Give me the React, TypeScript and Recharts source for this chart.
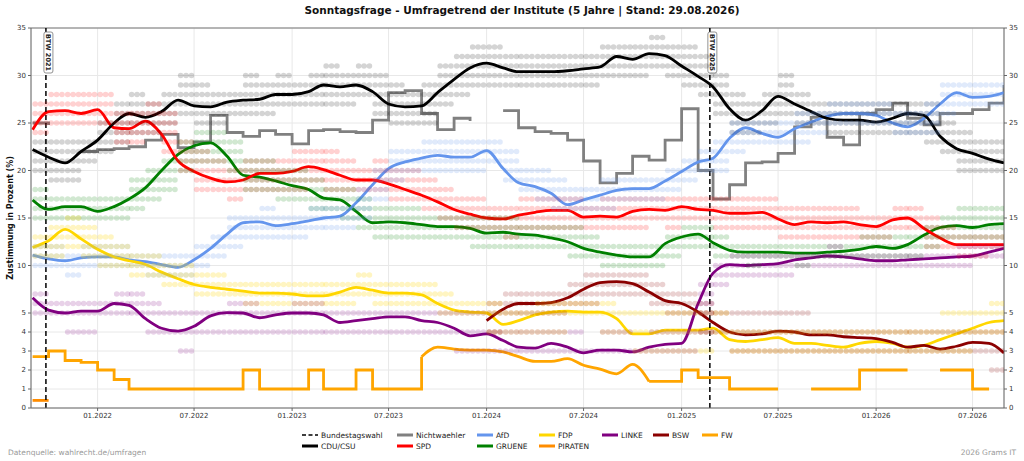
import React from 'react';
import { ComposedChart, Line, Scatter, XAxis, YAxis, CartesianGrid, ReferenceLine } from 'recharts';

// ---------- data ----------
const dates = [
  '2021-09-01', '2021-10-01', '2021-11-01', '2021-12-01',
  '2022-01-01', '2022-02-01', '2022-03-01', '2022-04-01', '2022-05-01', '2022-06-01', '2022-07-01', '2022-08-01', '2022-09-01', '2022-10-01', '2022-11-01', '2022-12-01',
  '2023-01-01', '2023-02-01', '2023-03-01', '2023-04-01', '2023-05-01', '2023-06-01', '2023-07-01', '2023-08-01', '2023-09-01', '2023-10-01', '2023-11-01', '2023-12-01',
  '2024-01-01', '2024-02-01', '2024-03-01', '2024-04-01', '2024-05-01', '2024-06-01', '2024-07-01', '2024-08-01', '2024-09-01', '2024-10-01', '2024-11-01', '2024-12-01',
  '2025-01-01', '2025-02-01', '2025-03-01', '2025-04-01', '2025-05-01', '2025-06-01', '2025-07-01', '2025-08-01', '2025-09-01', '2025-10-01', '2025-11-01', '2025-12-01',
  '2026-01-01', '2026-02-01', '2026-03-01', '2026-04-01', '2026-05-01', '2026-06-01', '2026-07-01', '2026-08-01',
  '2026-08-29',
];

const cdu = [22.2, 21.4, 20.8, 22.0,
  23.2, 25.0, 26.0, 25.6, 26.2, 27.4, 26.8, 26.7, 27.2, 27.4, 27.5, 28.0,
  28.0, 28.3, 29.0, 28.8, 29.0, 28.3, 27.0, 26.7, 26.8, 28.2, 29.6, 30.8,
  31.3, 30.8, 30.4, 30.4, 30.4, 30.5, 30.7, 30.9, 32.0, 31.7, 32.3, 32.1,
  31.0, 29.9, 28.8, 26.5, 25.3, 26.3, 27.8, 27.0, 26.2, 25.5, 25.3, 25.3,
  25.1, 25.5, 26.0, 25.8, 23.6, 22.3, 21.8, 21.2,
  20.8];
const spd = [24.3, 26.2, 26.3, 26.0,
  26.4, 24.5, 24.4, 25.2, 23.8, 21.0, 19.9, 19.2, 18.8, 19.0, 19.7, 19.7,
  19.9, 20.4, 20.1, 19.5, 19.0, 19.0, 18.6, 18.0, 17.4, 16.7, 15.9, 15.4,
  15.0, 14.9, 15.3, 15.6, 15.8, 15.8, 15.1, 15.2, 15.1, 15.7, 15.9, 15.8,
  16.2, 15.9, 15.8, 15.5, 15.5, 15.6, 14.9, 14.3, 14.6, 14.5, 14.6, 14.3,
  14.1, 14.8, 15.0, 13.9, 12.9, 12.2, 12.2, 12.2,
  12.2];
const gruene = [16.9, 15.9, 16.2, 16.2,
  15.7, 16.2, 17.0, 18.2, 20.0, 21.7, 22.6, 22.9, 21.5, 19.5, 19.3, 18.9,
  18.4, 18.0, 17.1, 16.9, 15.7, 14.5, 14.6, 14.5, 14.3, 14.1, 14.1, 13.9,
  13.4, 13.5, 13.3, 13.2, 12.9, 12.5, 11.8, 11.4, 11.1, 10.9, 10.9, 12.3,
  13.0, 13.3, 12.4, 11.6, 11.4, 11.4, 11.4, 11.3, 11.3, 11.4, 11.5, 11.7,
  12.0, 11.8, 12.2, 13.2, 14.0, 14.2, 14.0, 14.3,
  14.4];
const afd = [11.1, 10.7, 10.5, 10.8,
  10.9, 10.9, 10.6, 10.4, 10.1, 9.8, 10.6, 11.8, 13.3, 14.5, 14.6, 14.2,
  14.4, 14.7, 15.0, 15.2, 16.6, 18.5, 20.2, 20.9, 21.3, 21.6, 21.4, 21.4,
  22.1, 20.2, 18.7, 18.3, 17.6, 16.4, 16.9, 17.4, 17.9, 18.1, 18.1, 18.9,
  19.9, 20.9, 21.3, 23.4, 24.5, 23.9, 23.5, 24.4, 25.1, 25.7, 26.0, 26.0,
  25.8, 25.0, 24.6, 25.5, 27.0, 28.2, 27.7, 27.8,
  28.2];
const fdp = [11.9, 12.6, 13.8, 12.8,
  11.7, 10.9, 10.5, 10.1, 9.3, 8.6, 8.0, 7.7, 7.5, 7.3, 7.1, 7.1,
  7.0, 6.8, 6.8, 7.2, 7.7, 7.4, 7.1, 7.1, 6.9, 6.0, 5.3, 5.1,
  5.0, 4.4, 4.6, 4.9, 5.1, 5.2, 5.1, 5.1, 4.7, 3.9, 3.9, 4.1,
  4.1, 4.1, 4.2, 3.6, 3.5, 3.6, 3.7, 3.4, 3.4, 3.3, 3.2, 3.4,
  3.5, 3.4, 3.2, 3.3, 3.6, 3.9, 4.2, 4.5,
  4.6];
const linke = [6.6, 5.3, 5.0, 5.2,
  5.2, 6.0, 5.8, 4.7, 4.2, 4.05, 4.3, 4.85, 5.05, 5.0, 4.75, 4.9,
  5.0, 5.0, 4.9, 4.5, 4.6, 4.7, 4.8, 4.8, 4.6, 4.5, 4.2, 3.8,
  3.9, 3.55, 3.2, 3.15, 3.4, 3.2, 2.9, 3.05, 3.05, 2.95, 3.2, 3.35,
  3.4, 6.0, 9.2, 10.1, 10.0, 10.1, 10.2, 10.6, 10.8, 11.0, 10.9, 10.7,
  10.5, 10.5, 10.6, 10.7, 10.8, 10.9, 11.0, 11.4,
  11.8];
const bsw = [null, null, null, null,
  null, null, null, null, null, null, null, null, null, null, null, null,
  null, null, null, null, null, null, null, null, null, null, null, null,
  4.6, 5.4, 6.0, 6.0, 6.1, 6.6, 7.5, 8.2, 8.3, 8.1, 7.2, 6.3,
  6.0, 5.1, 4.5, 4.0, 3.85, 3.9, 4.05, 4.0, 3.85, 3.85, 3.75, 3.7,
  3.65, 3.45, 3.2, 3.3, 3.1, 3.25, 3.45, 3.4,
  2.9];
const nichtwaehler = [25.0, 24.8, null, 22.0,
  22.2, 22.3, 22.5, 23.2, 23.8, 22.4, 23.0, 25.8, 24.0, 23.6, 24.2, 23.8,
  22.8, 24.2, 24.3, 24.1, 24.0, 25.3, 28.2, 28.4, 26.0, 24.3, 25.5, 25.2,
  null, 26.3, 24.5, 24.1, 23.9, 23.2, 21.0, 18.7, 19.7, 21.5, 21.1, 23.2,
  26.5, 20.0, 17.0, 18.5, 20.8, 20.9, 21.8, 24.6, 25.6, 23.5, 22.7, 26.0,
  26.4, 27.1, 25.5, 24.8, 26.0, 26.0, 26.4, 27.1,
  29.0];
const fwStep = [2.7, 3.0, 2.5, 2.4,
  2.0, 1.5, 1.0, 1.0, 1.0, 1.0, 1.0, 1.0, 1.0, 2.0, 1.0, 1.0,
  1.0, 2.0, 1.0, 1.0, 2.0, 1.0, 1.0, 1.0, 2.7, null, null, null,
  null, null, null, null, null, null, null, null, null, null, 1.4, 1.4,
  2.0, 1.6, 1.6, 1.0, 1.0, 1.0, 1.0, null, 1.0, 1.0, 1.0, 2.0,
  2.0, 2.0, 2.0, null, 2.0, 2.0, 1.0, 1.0,
  null];
const fwSmooth = [null, null, null, null,
  null, null, null, null, null, null, null, null, null, null, null, null,
  null, null, null, null, null, null, null, null, 2.7, 3.2, 3.1, 3.05,
  3.05, 2.95, 2.7, 2.45, 2.45, 2.6, 2.25, 2.05, 1.8, 2.3, 1.4, null,
  null, null, null, null, null, null, null, null, null, null, null, null,
  null, null, null, null, null, null, null, null,
  null];
const piraten = [0.4, 0.4, null, null,
  null, null, null, null, null, null, null, null, null, null, null, null,
  null, null, null, null, null, null, null, null, null, null, null, null,
  null, null, null, null, null, null, null, null, null, null, null, null,
  null, null, null, null, null, null, null, null, null, null, null, null,
  null, null, null, null, null, null, null, null,
  null];

// poll dots: lowest / highest poll value per month
const cduLo = [20, 19, 19, 21, 22, 23, 24, 24, 25, 26, 25, 25, 26, 26, 26, 27, 27, 27, 27, 27, 28, 26, 25, 25, 25, 27, 28, 29, 29, 29, 29, 29, 29, 29, 29, 30, 30, 30, 31, 30, 29, 28, 26, 24, 24, 25, 26, 25, 25, 24, 24, 24, 24, 24, 24, 23, 22, 20, 20, 20];
const cduHi = [23, 23, 23, 23, 25, 27, 28, 27, 28, 30, 29, 28, 28, 30, 29, 30, 29, 30, 31, 30, 31, 30, 29, 28, 29, 31, 32, 33, 33, 32, 32, 32, 32, 32, 32, 33, 33, 33, 34, 33, 33, 32, 30, 28, 27, 28, 30, 28, 27, 27, 27, 27, 27, 27, 27, 27, 25, 24, 23, 23];
const spdLo = [24, 25, 25, 25, 25, 23, 23, 24, 22, 20, 18, 18, 17, 18, 18, 18, 18, 19, 18, 18, 18, 18, 17, 17, 16, 15, 14, 14, 14, 13, 14, 14, 14, 14, 14, 14, 14, 14, 15, 14, 15, 15, 14, 14, 14, 14, 13, 13, 13, 13, 13, 13, 13, 14, 14, 12, 12, 11, 11, 12];
const spdHi = [27, 28, 28, 28, 28, 26, 26, 27, 26, 23, 22, 21, 20, 21, 21, 21, 22, 22, 22, 21, 20, 21, 20, 20, 19, 18, 17, 17, 16, 16, 17, 17, 17, 17, 16, 17, 17, 17, 17, 17, 17, 17, 17, 17, 17, 17, 16, 16, 16, 16, 16, 15, 15, 16, 16, 15, 14, 13, 13, 13];
const grueneLo = [15, 15, 15, 15, 15, 15, 16, 17, 18, 20, 21, 21, 20, 18, 18, 17, 17, 16, 16, 15, 14, 13, 13, 13, 13, 13, 13, 12, 12, 12, 12, 12, 12, 11, 11, 10, 10, 10, 10, 11, 12, 12, 11, 11, 10, 11, 11, 10, 11, 11, 11, 11, 11, 11, 11, 12, 13, 13, 13, 13];
const grueneHi = [18, 17, 17, 17, 17, 17, 19, 20, 21, 23, 24, 24, 23, 21, 21, 20, 20, 19, 18, 18, 17, 16, 16, 16, 15, 15, 15, 15, 15, 15, 14, 14, 14, 14, 13, 12, 12, 12, 12, 13, 14, 14, 13, 12, 12, 12, 12, 12, 12, 12, 12, 13, 13, 13, 13, 14, 15, 16, 16, 16];
const afdLo = [10, 10, 9, 10, 10, 10, 10, 9, 9, 9, 10, 11, 12, 13, 13, 13, 13, 14, 14, 14, 15, 17, 19, 20, 20, 20, 20, 20, 21, 19, 18, 17, 16, 16, 16, 16, 17, 17, 17, 18, 19, 20, 20, 22, 23, 23, 23, 23, 24, 25, 25, 25, 25, 24, 24, 24, 26, 27, 27, 27];
const afdHi = [12, 12, 11, 12, 12, 12, 11, 11, 11, 11, 12, 13, 15, 15, 16, 15, 15, 16, 16, 16, 18, 20, 22, 22, 23, 23, 23, 23, 23, 22, 20, 20, 19, 18, 18, 19, 19, 19, 19, 20, 21, 22, 23, 25, 25, 25, 25, 26, 26, 27, 27, 27, 27, 26, 26, 27, 29, 29, 29, 29];
const fdpLo = [11, 11, 12, 11, 10, 10, 9, 9, 8, 8, 7, 7, 7, 6, 6, 6, 6, 6, 6, 6, 7, 6, 6, 6, 6, 5, 5, 5, 4, 4, 4, 4, 4, 5, 5, 4, 4, 3, 3, 3, 3, 3, 4, 3, 3, 3, 3, 3, 3, 3, 3, 3, 3, 3, 3, 3, 3, 3, 4, 4];
const fdpHi = [13, 14, 15, 14, 13, 12, 11, 11, 10, 10, 9, 9, 8, 8, 8, 8, 8, 8, 8, 8, 9, 8, 8, 8, 8, 7, 6, 6, 6, 5, 5, 6, 6, 6, 6, 6, 5, 5, 5, 5, 5, 5, 5, 4, 4, 4, 4, 4, 4, 4, 4, 4, 4, 4, 4, 4, 5, 5, 5, 6];
const linkeLo = [5, 5, 4, 4, 5, 5, 5, 4, 4, 3, 4, 4, 4, 4, 4, 4, 4, 4, 4, 4, 4, 4, 4, 4, 4, 4, 3, 3, 3, 3, 3, 3, 3, 3, 3, 3, 3, 3, 3, 3, 3, 4, 8, 9, 9, 9, 9, 10, 10, 10, 10, 10, 10, 10, 10, 10, 10, 10, 11, 11];
const linkeHi = [7, 6, 6, 6, 6, 7, 7, 6, 5, 5, 5, 5, 6, 6, 5, 5, 6, 6, 5, 5, 5, 5, 5, 5, 5, 5, 5, 5, 4, 4, 4, 4, 4, 4, 3, 4, 4, 3, 4, 4, 4, 8, 10, 11, 11, 11, 11, 11, 11, 12, 11, 11, 11, 11, 11, 11, 11, 12, 12, 12];
const bswLo = [null, null, null, null, null, null, null, null, null, null, null, null, null, null, null, null, null, null, null, null, null, null, null, null, null, null, null, null, 4, 5, 5, 5, 5, 6, 6, 7, 7, 7, 6, 5, 5, 4, 4, 3, 3, 3, 3, 3, 3, 3, 3, 3, 3, 3, 3, 3, 3, 3, 3, 2];
const bswHi = [null, null, null, null, null, null, null, null, null, null, null, null, null, null, null, null, null, null, null, null, null, null, null, null, null, null, null, null, 6, 7, 7, 7, 7, 8, 9, 9, 9, 9, 8, 7, 7, 6, 5, 5, 5, 5, 5, 5, 4, 4, 4, 4, 4, 4, 4, 4, 4, 4, 4, 4];

const xTickDates = ['2022-01-01', '2022-07-01', '2023-01-01', '2023-07-01', '2024-01-01', '2024-07-01', '2025-01-01', '2025-07-01', '2026-01-01', '2026-07-01'];
const yTickValues = [0, 1, 2, 3, 4, 5, 10, 15, 20, 25, 30, 35];
const elections = [
  { date: '2021-09-26', label: 'BTW 2021' },
  { date: '2025-02-23', label: 'BTW 2025' },
];
const domainDates = ['2021-08-29', '2026-08-29'];

// ---------- helpers ----------
const DAY = 864e5;
const toDay = (s: string) => Date.UTC(+s.slice(0, 4), +s.slice(5, 7) - 1, +s.slice(8, 10)) / DAY;
// piecewise y-scale: 0..5 is drawn at double scale
const tf = (v: number | null) => (v == null ? null : v < 5 ? v * 2 : v + 5);
const untf = (t: number) => (t <= 10 ? t / 2 : t - 5);

const table = dates.map((d, i) => ({
  t: toDay(d),
  cdu: tf(cdu[i]), spd: tf(spd[i]), gruene: tf(gruene[i]), afd: tf(afd[i]), fdp: tf(fdp[i]),
  linke: tf(linke[i]), bsw: tf(bsw[i]), nw: tf(nichtwaehler[i]), fwStep: tf(fwStep[i]),
  fwSmooth: tf(fwSmooth[i]), piraten: tf(piraten[i]),
}));

const mkDots = (lo: (number | null)[], hi: (number | null)[]) => {
  const out: { t: number; y: number | null }[] = [];
  lo.forEach((l, i) => {
    const h = hi[i];
    if (l == null || h == null) return;
    for (let v = l; v <= h; v++) out.push({ t: toDay(dates[i]) + 15, y: tf(v) });
  });
  return out;
};

const C = {
  cdu: '#000000', nw: '#808080', spd: '#ff0000', afd: '#6495ed', gruene: '#008000',
  fdp: '#ffd700', piraten: '#ff8c00', linke: '#800080', bsw: '#8b0000', fw: '#ffa500',
};

const dotSets = [
  { key: 'cdu', data: mkDots(cduLo, cduHi), color: C.cdu, op: 0.17 },
  { key: 'spd', data: mkDots(spdLo, spdHi), color: C.spd, op: 0.18 },
  { key: 'gruene', data: mkDots(grueneLo, grueneHi), color: C.gruene, op: 0.18 },
  { key: 'afd', data: mkDots(afdLo, afdHi), color: C.afd, op: 0.2 },
  { key: 'fdp', data: mkDots(fdpLo, fdpHi), color: C.fdp, op: 0.24 },
  { key: 'linke', data: mkDots(linkeLo, linkeHi), color: C.linke, op: 0.18 },
  { key: 'bsw', data: mkDots(bswLo, bswHi), color: C.bsw, op: 0.18 },
];

const dotShape = (color: string, op: number) => (props: any) => {
  const { cx, cy } = props;
  if (cx == null || cy == null || isNaN(cx) || isNaN(cy)) return <g />;
  return (
    <g>
      {[-5.4, 0, 5.4].map((dx, k) => (
        <circle key={k} cx={cx + dx} cy={cy} r={2.8} fill={color} fillOpacity={op} />
      ))}
    </g>
  );
};

const xFmt = (d: number) => {
  const dt = new Date(d * DAY);
  return String(dt.getUTCMonth() + 1).padStart(2, '0') + '.' + dt.getUTCFullYear();
};

const BtwLabel = (props: any) => {
  const { viewBox, text } = props;
  if (!viewBox) return null;
  const x = viewBox.x;
  const y = viewBox.y;
  return (
    <g>
      <rect x={x - 2} y={y + 4} width={9} height={41} rx={2} fill="#fff" stroke="#777" strokeWidth={0.8} />
      <text x={x + 2.5} y={y + 24.5} transform={`rotate(90 ${x + 2.5} ${y + 24.5})`} textAnchor="middle"
        dominantBaseline="central" fontSize={6.5} fontWeight="bold" fill="#222" fontFamily="DejaVu Sans">
        {text}
      </text>
    </g>
  );
};

const legendItems = [
  { label: 'Bundestagswahl', color: '#000', dashed: true, col: 0, row: 0 },
  { label: 'CDU/CSU', color: C.cdu, col: 0, row: 1 },
  { label: 'Nichtwaehler', color: C.nw, col: 1, row: 0 },
  { label: 'SPD', color: C.spd, col: 1, row: 1 },
  { label: 'AfD', color: C.afd, col: 2, row: 0 },
  { label: 'GRUENE', color: C.gruene, col: 2, row: 1 },
  { label: 'FDP', color: C.fdp, col: 3, row: 0 },
  { label: 'PIRATEN', color: C.piraten, col: 3, row: 1 },
  { label: 'LINKE', color: C.linke, col: 4, row: 0 },
  { label: 'BSW', color: C.bsw, col: 5, row: 0 },
  { label: 'FW', color: C.fw, col: 6, row: 0 },
];
const legendColX = [302, 397, 477, 539, 602, 653, 702];
const legendRowY = [435, 446];

const font = 'DejaVu Sans, sans-serif';

export default function App() {
  const xTicks = xTickDates.map(toDay);
  const yTicks = yTickValues.map((v) => tf(v) as number);
  const lineProps = { yAxisId: 'l', dot: false, isAnimationActive: false, strokeWidth: 2.8 } as const;
  return (
    <div style={{ position: 'absolute', left: 0, top: 0, width: 1024, height: 461, background: '#fff', fontFamily: font }}>
      <ComposedChart width={1024} height={461} data={table} margin={{ top: 28, right: 0, bottom: 33, left: 6 }}>
        <CartesianGrid stroke="#e8e8e8" strokeWidth={1} yAxisId="l" />
        <XAxis dataKey="t" type="number" domain={domainDates.map(toDay)} ticks={xTicks} tickFormatter={xFmt}
          allowDataOverflow height={20} tick={{ fontSize: 7, fill: '#333', fontFamily: font }}
          axisLine={{ stroke: '#666' }} tickLine={{ stroke: '#666' }} tickSize={3} />
        <YAxis yAxisId="l" type="number" domain={[0, 40]} ticks={yTicks} tickFormatter={untf} width={25}
          allowDataOverflow interval={0} tick={{ fontSize: 7, fill: '#333', fontFamily: font }}
          axisLine={{ stroke: '#666' }} tickLine={{ stroke: '#666' }} tickSize={3} />
        <YAxis yAxisId="r" orientation="right" type="number" domain={[0, 40]} ticks={yTicks} tickFormatter={untf}
          width={20} allowDataOverflow interval={0} tick={{ fontSize: 7, fill: '#333', fontFamily: font }}
          axisLine={{ stroke: '#666' }} tickLine={{ stroke: '#666' }} tickSize={3} />
        <ReferenceLine yAxisId="l" y={40} stroke="#777" strokeWidth={1} />

        {dotSets.map((s) => (
          <Scatter key={s.key} yAxisId="l" data={s.data} dataKey="y" isAnimationActive={false}
            shape={dotShape(s.color, s.op)} legendType="none" />
        ))}

        <Line {...lineProps} dataKey="nw" type="stepAfter" stroke={C.nw} />
        <Line {...lineProps} dataKey="gruene" type="monotone" stroke={C.gruene} />
        <Line {...lineProps} dataKey="afd" type="monotone" stroke={C.afd} />
        <Line {...lineProps} dataKey="spd" type="monotone" stroke={C.spd} />
        <Line {...lineProps} dataKey="cdu" type="monotone" stroke={C.cdu} />
        <Line {...lineProps} dataKey="fdp" type="monotone" stroke={C.fdp} />
        <Line {...lineProps} dataKey="piraten" type="linear" stroke={C.piraten} />
        <Line {...lineProps} dataKey="fwStep" type="stepAfter" stroke={C.fw} />
        <Line {...lineProps} dataKey="fwSmooth" type="monotone" stroke={C.fw} />
        <Line {...lineProps} dataKey="linke" type="monotone" stroke={C.linke} />
        <Line {...lineProps} dataKey="bsw" type="monotone" stroke={C.bsw} />

        {elections.map((e) => (
          <ReferenceLine key={e.date} yAxisId="l" x={toDay(e.date)} stroke="#000" strokeWidth={1.5}
            strokeDasharray="5 3" label={<BtwLabel text={e.label} />} />
        ))}
      </ComposedChart>

      <svg width={1024} height={461} style={{ position: 'absolute', left: 0, top: 0, pointerEvents: 'none' }}>
        <text x={522} y={14} textAnchor="middle" fontSize={10.5} fontWeight="bold" fill="#111" fontFamily={font}>
          Sonntagsfrage - Umfragetrend der Institute (5 Jahre | Stand: 29.08.2026)
        </text>
        <text x={10} y={218} transform="rotate(-90 10 218)" textAnchor="middle" dominantBaseline="central"
          fontSize={8} fontWeight="bold" fill="#111" fontFamily={font}>
          Zustimmung in Prozent (%)
        </text>
        {legendItems.map((it) => {
          const x = legendColX[it.col];
          const y = legendRowY[it.row];
          return (
            <g key={it.label}>
              <line x1={x} x2={x + 16} y1={y} y2={y} stroke={it.color} strokeWidth={it.dashed ? 1.5 : 3}
                strokeDasharray={it.dashed ? '4 2.5' : undefined} />
              <text x={x + 19} y={y} dominantBaseline="central" fontSize={7.5} fill="#222" fontFamily={font}>
                {it.label}
              </text>
            </g>
          );
        })}
        <text x={8} y={452} dominantBaseline="central" fontSize={7.5} fill="#999" fontFamily={font}>
          Datenquelle: wahlrecht.de/umfragen
        </text>
        <text x={1016} y={452} textAnchor="end" dominantBaseline="central" fontSize={7.5} fill="#999" fontFamily={font}>
          2026 Grams IT
        </text>
      </svg>
    </div>
  );
}
